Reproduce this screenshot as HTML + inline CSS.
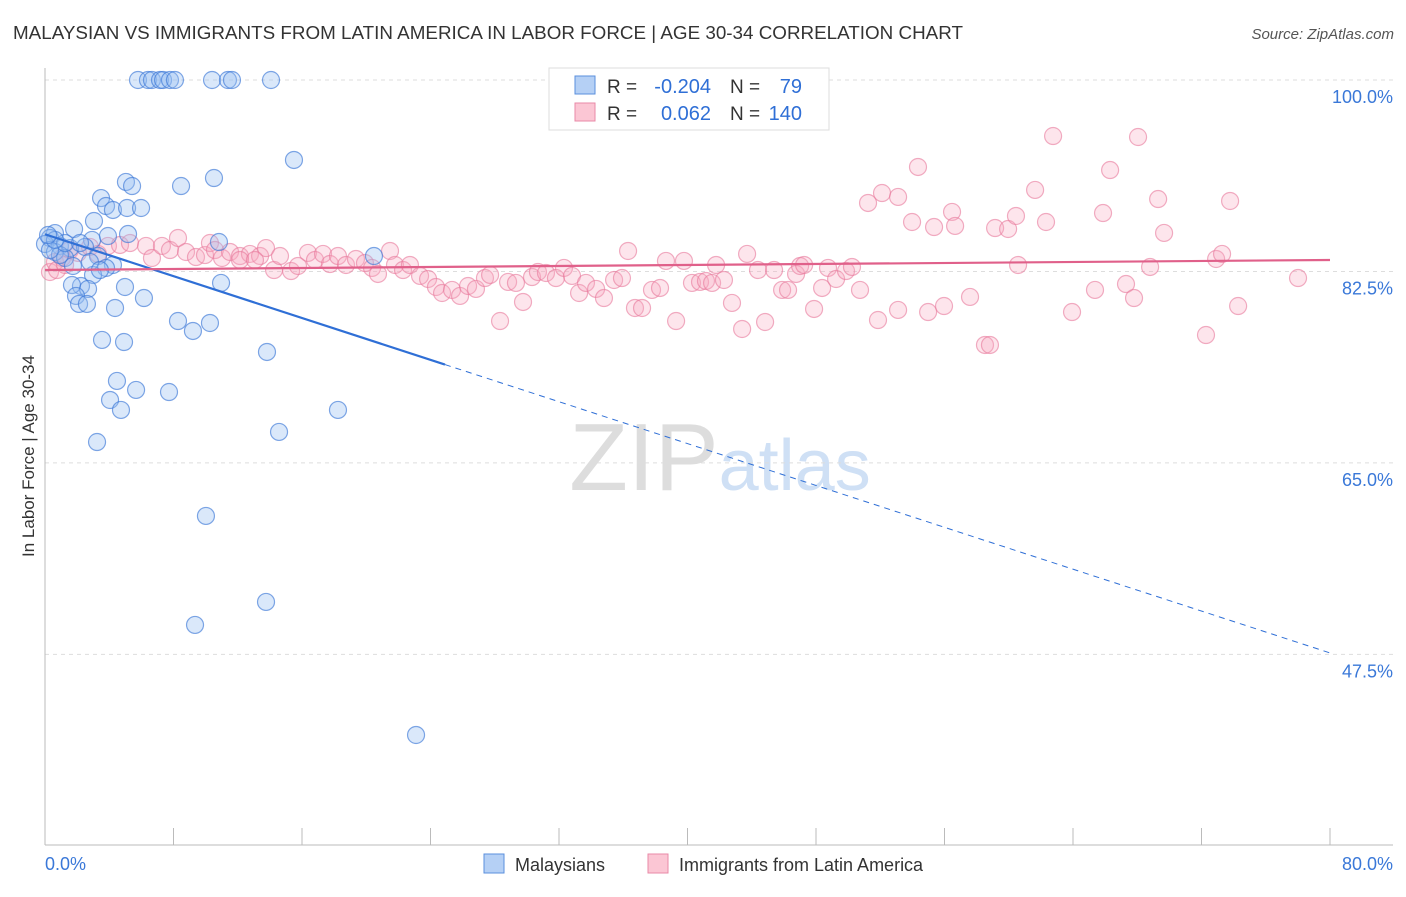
<!DOCTYPE html>
<html><head><meta charset="utf-8"><style>
body{margin:0;background:#fff;font-family:"Liberation Sans",sans-serif;}
svg text{font-family:"Liberation Sans",sans-serif;}
</style></head><body>
<svg id="chart" width="1406" height="892" xmlns="http://www.w3.org/2000/svg">
<text x="13" y="39" font-size="18" fill="#333" textLength="950" lengthAdjust="spacingAndGlyphs">MALAYSIAN VS IMMIGRANTS FROM LATIN AMERICA IN LABOR FORCE | AGE 30-34 CORRELATION CHART</text>
<text x="1394" y="39" font-size="15" fill="#555" text-anchor="end" font-style="italic">Source: ZipAtlas.com</text>
<text transform="translate(34,456) rotate(-90)" font-size="17" fill="#333" text-anchor="middle">In Labor Force | Age 30-34</text>
<text x="720" y="490" font-size="96" text-anchor="middle" fill="#ddd" font-family="Liberation Serif">ZIP<tspan fill="#cfe0f5" font-family="Liberation Sans" font-size="72">atlas</tspan></text>
<g id="grid"></g><g id="marks"></g><g id="trends"></g>
<g>
<rect x="549" y="68" width="280" height="62" fill="#fff" stroke="#ddd"/>
<rect x="575" y="76" width="20" height="18" fill="#b5d0f5" stroke="#5a8fdd"/>
<rect x="575" y="103" width="20" height="18" fill="#fbc6d4" stroke="#e889a7"/>
<text x="607" y="93" font-size="19" fill="#333">R =</text>
<text x="711" y="93" font-size="20" fill="#2f6fd6" text-anchor="end">-0.204</text>
<text x="730" y="93" font-size="19" fill="#333">N =</text>
<text x="802" y="93" font-size="20" fill="#2f6fd6" text-anchor="end">79</text>
<text x="607" y="120" font-size="19" fill="#333">R =</text>
<text x="711" y="120" font-size="20" fill="#2f6fd6" text-anchor="end">0.062</text>
<text x="730" y="120" font-size="19" fill="#333">N =</text>
<text x="802" y="120" font-size="20" fill="#2f6fd6" text-anchor="end">140</text>
</g>
<g>
<rect x="484" y="854" width="20" height="19" fill="#b5d0f5" stroke="#5a8fdd"/>
<text x="515" y="871" font-size="18" fill="#333">Malaysians</text>
<rect x="648" y="854" width="20" height="19" fill="#fbc6d4" stroke="#e889a7"/>
<text x="679" y="871" font-size="18" fill="#333">Immigrants from Latin America</text>
</g>
</svg>
<script>
const yTicks=[100,82.5,65,47.5];
const xTickLabels=["0.0%","80.0%"];
const blueX=[5.79,6.41,6.66,7.16,7.35,7.78,8.09,10.40,11.39,11.64,14.07,15.50,8.47,10.52,5.04,5.42,3.49,3.80,4.23,5.11,5.98,3.05,1.81,0.62,0.31,2.93,3.92,5.17,10.83,0,0.93,1.56,2.49,0.62,1.25,1.74,3.30,4.23,3.80,2.99,2.24,2.68,1.68,1.93,2.12,2.61,4.36,4.98,6.16,10.96,20.48,8.28,9.21,10.27,3.55,4.92,13.82,4.48,5.67,4.05,4.73,7.72,18.24,14.57,3.24,10.02,13.76,9.34,23.10,0.93,0.31,1.25,2.18,0.62,0.19,2.80,3.42];
const blueY=[100,100,100,100,100,100,100,100,100,100,100,92.69,90.31,91.04,90.68,90.31,89.21,88.48,88.12,88.30,88.30,87.11,86.38,86.01,85.56,85.38,85.74,85.92,85.19,85.01,84.83,84.64,84.74,84.28,83.73,83.00,83.91,83.09,82.82,82.18,81.17,80.90,81.26,80.26,79.53,79.53,79.16,81.08,80.07,81.45,83.91,77.97,77.06,77.79,76.24,76.05,75.14,72.49,71.67,70.75,69.84,71.48,69.84,67.83,66.91,60.15,52.29,50.19,40.13,84.0,84.46,85.1,85.1,85.38,85.83,83.37,82.63];
const pinkX=[0.31,0.62,1.06,1.56,2.05,2.80,3.30,3.92,4.67,5.29,6.29,6.66,7.28,7.78,8.28,8.78,9.40,9.96,10.27,10.58,11.02,11.52,12.14,12.76,13.39,13.76,14.26,14.63,15.32,15.75,16.37,16.81,17.31,17.74,18.24,18.74,19.36,19.92,20.36,20.73,21.48,21.79,22.29,22.72,23.35,23.85,24.34,24.72,25.34,25.84,26.34,26.83,27.39,27.71,28.33,28.83,29.32,29.76,30.32,30.69,31.19,31.81,32.31,32.81,33.25,33.68,34.31,34.80,35.43,35.92,36.30,36.73,37.17,37.79,38.29,38.66,39.29,39.78,40.28,40.78,41.15,41.53,41.78,42.27,42.77,43.40,43.71,44.39,44.83,45.39,45.89,46.26,46.76,47.01,47.26,47.88,48.38,48.75,49.25,49.87,50.24,50.74,51.24,51.86,52.11,53.11,53.11,53.98,54.35,54.98,55.35,55.97,56.47,56.66,57.59,58.52,58.83,59.15,59.96,60.45,60.58,61.64,62.32,62.76,63.94,65.37,65.87,66.31,67.30,67.80,68.05,68.80,69.30,69.67,72.28,72.91,73.28,73.78,74.28,78.01,12.14,13.07,0.75,1.25];
const pinkY=[82.45,83.37,83.73,84.46,84.19,84.74,84.10,84.83,84.92,85.10,84.83,83.73,84.83,84.46,85.56,84.28,83.82,84.00,85.10,84.46,83.73,84.28,83.91,84.10,83.91,84.64,82.63,83.91,82.54,83.00,84.19,83.55,84.10,83.18,83.91,83.09,83.64,83.27,82.82,82.27,84.37,83.09,82.63,83.09,82.09,81.81,81.08,80.53,80.81,80.26,81.17,80.90,81.90,82.18,77.97,81.54,81.45,79.71,81.99,82.45,82.36,81.90,82.82,82.09,80.53,81.45,80.90,80.07,81.72,81.90,84.37,79.16,79.16,80.81,80.99,83.46,77.97,83.46,81.45,81.54,81.63,81.45,83.09,81.72,79.62,77.24,84.10,82.63,77.88,82.63,80.81,80.81,82.27,83.00,83.09,79.07,80.99,82.82,81.81,82.54,82.91,80.81,88.76,78.06,89.67,78.98,89.31,87.02,92.05,78.79,86.56,79.34,87.94,86.66,80.17,75.78,75.78,86.47,86.38,87.57,83.09,89.95,87.02,94.88,78.79,80.81,87.84,91.77,81.35,80.07,94.79,82.91,89.12,86.02,76.69,83.64,84.10,88.94,79.34,81.90,83.55,83.55,82.63,83.09];
const blueTrend=[85.9,47.63];
const pinkTrend=[82.63,83.55];
const blueSolidEnd=24.9;

const NS="http://www.w3.org/2000/svg";
const X=v=>45+v/80*1285;
const Y=v=>80+(100-v)*10.94;
function mk(tag,attrs,parent){const e=document.createElementNS(NS,tag);for(const k in attrs)e.setAttribute(k,attrs[k]);parent.appendChild(e);return e;}
const grid=document.getElementById('grid'),marks=document.getElementById('marks'),trends=document.getElementById('trends');
yTicks.forEach(t=>{
  const l=mk('line',{x1:45,x2:1393,y1:Y(t),y2:Y(t),stroke:'#ddd','stroke-dasharray':'4,4'},grid);
  
  
  const tx=mk('text',{x:1393,y:Y(t)+23,'font-size':18,fill:'#3a78d8','text-anchor':'end'},grid);
  tx.textContent=t.toFixed(1)+'%';
  
  
});
const ax=mk('line',{x1:45,x2:45,y1:68,y2:845,stroke:'#bbb'},grid);


const bx=mk('line',{x1:45,x2:1393,y1:845,y2:845,stroke:'#bbb'},grid);


for(let i=0;i<=10;i++){
  const t=mk('line',{x1:X(i*8),x2:X(i*8),y1:828,y2:845,stroke:'#bbb'},grid);
  
  
}
const xl0=mk('text',{x:45,y:870,'font-size':18,fill:'#3a78d8'},grid);xl0.textContent=xTickLabels[0];


const xl1=mk('text',{x:1393,y:870,'font-size':18,fill:'#3a78d8','text-anchor':'end'},grid);xl1.textContent=xTickLabels[1];


pinkX.forEach((x,i)=>{
  const c=mk('circle',{cx:X(x),cy:Y(pinkY[i]),r:8.5,fill:'rgba(248,170,192,0.3)',stroke:'rgba(232,120,155,0.6)','stroke-width':1.2},marks);
  
  
});
blueX.forEach((x,i)=>{
  const c=mk('circle',{cx:X(x),cy:Y(blueY[i]),r:8.5,fill:'rgba(150,190,240,0.35)',stroke:'rgba(60,120,215,0.65)','stroke-width':1.2},marks);
  
  
});
const bAt=x=>blueTrend[0]+(blueTrend[1]-blueTrend[0])*x/80;
const pAt=x=>pinkTrend[0]+(pinkTrend[1]-pinkTrend[0])*x/80;
const b1=mk('line',{x1:X(0),y1:Y(bAt(0)),x2:X(blueSolidEnd),y2:Y(bAt(blueSolidEnd)),stroke:'#2f6fd6','stroke-width':2.2},trends);


const b2=mk('line',{x1:X(blueSolidEnd),y1:Y(bAt(blueSolidEnd)),x2:X(80),y2:Y(bAt(80)),stroke:'#2f6fd6','stroke-width':1,'stroke-dasharray':'6,5'},trends);


const p1=mk('line',{x1:X(0),y1:Y(pAt(0)),x2:X(80),y2:Y(pAt(80)),stroke:'#e0608a','stroke-width':2.2},trends);


</script>
</body></html>
